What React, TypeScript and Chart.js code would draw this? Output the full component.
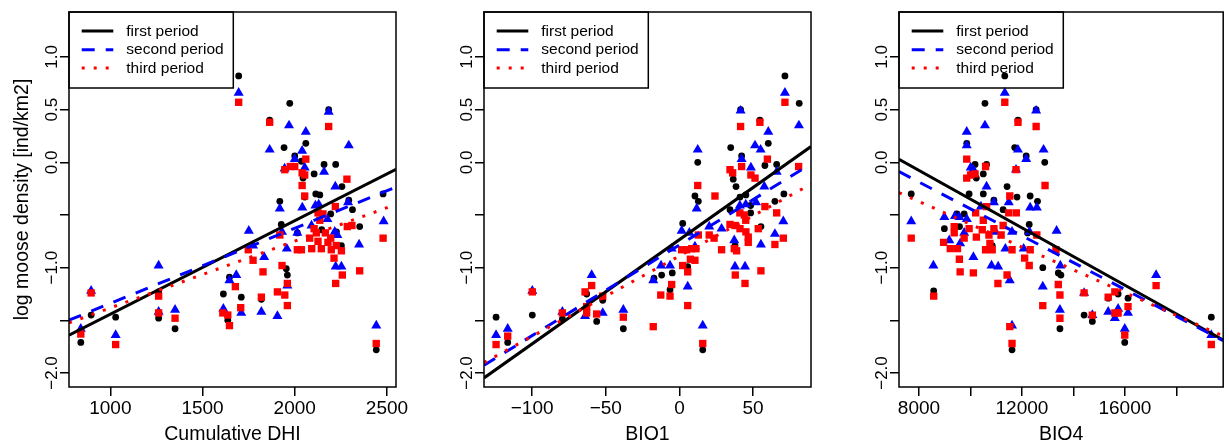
import React, { useEffect, useRef } from "react";
import { Chart, registerables } from "chart.js";

Chart.register(...registerables);

const FONT = '"Liberation Sans", Arial, Helvetica, sans-serif';

type Pt = [number, number];

// ---------- shared y axis ----------
const yMin = -2.133;
const yMax = 1.427;
const yTicks = [-2, -1.5, -1, -0.5, 0, 0.5, 1];
const yTickLabels = ["\u22122.0", "", "\u22121.0", "", "0.0", "0.5", "1.0"];
const yTitle = "log moose density [ind/km2]";

const legendLabels = ["first period", "second period", "third period"];
const periodColors = ["#000000", "#0000FF", "#FF0000"];

// ---------- panel 1: Cumulative DHI ----------
const dhiRange = [776, 2549];
const dhiTicks = [1000, 1500, 2000, 2500];
const dhiTickLabels = ["1000", "1500", "2000", "2500"];
const dhiFirst: Pt[] = [
  [840, -1.71], [896, -1.45], [1029, -1.47], [1262, -1.23], [1262, -1.48], [1351, -1.58], [1613, -1.25], [1637, -1.5], [1646, -1.09],
  [1696, 0.82], [1973, 0.56], [1864, 0.4], [2184, 0.5], [2060, 0.18], [1942, 0.14], [2000, 0.06], [2036, 0.01], [2159, -0.02],
  [2222, -0.02], [2105, -0.11], [2045, -0.15], [2256, -0.23], [2054, -0.33], [1919, -0.37], [2114, -0.3], [2136, -0.31],
  [2293, -0.36], [2313, -0.45], [1927, -0.59], [2195, -0.49], [2352, -0.61], [2479, -0.3], [2014, -0.67], [2253, -0.79],
  [2226, -0.66], [1954, -1.01], [1960, -1.07], [1710, -1.28], [1819, -1.3], [2442, -1.78], [2146, -0.64],
];
const dhiSecond: Pt[] = [
  [840, -1.58], [896, -1.22], [1029, -1.64], [1262, -0.98], [1262, -1.42], [1351, -1.4], [1613, -1.39], [1646, -1.12],
  [1696, 0.66], [2184, 0.48], [1969, 0.35], [2060, 0.29], [1864, 0.12], [2293, 0.16], [2040, 0.11], [2000, 0.03], [2054, -0.05],
  [2159, -0.09], [1945, -0.06], [2220, -0.23], [1919, -0.44], [2041, -0.43], [2112, -0.41], [2130, -0.4], [2289, -0.38],
  [1751, -0.65], [2091, -0.6], [2177, -0.54], [2014, -0.67], [1931, -0.66], [1774, -0.79], [1957, -0.82], [1834, -0.9],
  [2217, -0.66], [2231, -0.69], [2349, -0.78], [2482, -0.56], [2222, -0.99], [2253, -0.99], [1683, -1.07], [1960, -1.17],
  [1710, -1.43], [1819, -1.42], [1906, -1.46], [2442, -1.55],
];
const dhiThird: Pt[] = [
  [840, -1.63], [896, -1.24], [1029, -1.73], [1262, -1.27], [1262, -1.43], [1351, -1.48], [1610, -1.43], [1637, -1.45], [1646, -1.55],
  [1696, 0.57], [1864, 0.38], [2184, 0.34], [2060, 0.03], [1946, -0.07], [1976, -0.04], [2000, -0.04], [2040, -0.1], [2054, -0.12],
  [2040, -0.22], [2054, -0.32], [2283, -0.16], [2220, -0.42], [2126, -0.48], [2153, -0.49], [2136, -0.55], [1919, -0.69],
  [2105, -0.63], [2117, -0.67], [2166, -0.67], [2195, -0.72], [2081, -0.72], [2126, -0.75], [2144, -0.82], [2180, -0.76],
  [2198, -0.83], [2225, -0.79], [2253, -0.84], [2092, -0.82], [2285, -0.61], [2310, -0.6], [2479, -0.72], [1748, -0.83],
  [1774, -0.93], [1828, -1.04], [1931, -0.98], [2014, -0.83], [2036, -0.83], [2213, -0.91], [2258, -1.07], [2352, -1.03],
  [2222, -1.15], [1960, -1.15], [1678, -1.18], [1906, -1.23], [1946, -1.26], [1819, -1.28], [1960, -1.36], [1707, -1.38],
  [2442, -1.72],
];
const dhiCoefs = [[-2.331, 0.000888], [-2.052, 0.000713], [-2.016, 0.000634]];

// ---------- panel 2: BIO1 ----------
const bio1Range = [-132.7, 89.3];
const bio1Ticks = [-100, -50, 0, 50];
const bio1TickLabels = ["\u2212100", "\u221250", "0", "50"];
const bio1First: Pt[] = [
  [-124.5, -1.47], [-116.6, -1.71], [-99.9, -1.45], [-79.5, -1.49], [-63, -1.25], [-56.2, -1.51], [-52.1, -1.31], [-38.1, -1.58],
  [71.6, 0.82], [81.3, 0.56], [41.5, 0.5], [54.6, 0.4], [60.3, 0.18], [34.8, 0.14], [42.2, 0.06], [12.4, 0.0], [66, -0.02],
  [58, -0.03], [36.1, -0.1], [36.5, -0.16], [38.4, -0.23], [10.5, -0.32], [12.8, -0.37], [41.1, -0.33], [45.1, -0.31],
  [70.9, -0.3], [64.8, -0.37], [48.3, -0.41], [48.3, -0.48], [34.3, -0.45], [2.2, -0.58], [55.3, -0.61], [37.7, -0.79],
  [5.6, -0.99], [-12.1, -1.07], [-4.9, -1.05], [-6.4, -1.21], [15.8, -1.78], [-17.3, -1.1],
];
const bio1Second: Pt[] = [
  [-124.5, -1.64], [-116.6, -1.58], [-99.9, -1.22], [-79.5, -1.42], [-64.1, -1.46], [-59.6, -1.07], [-52.1, -1.43], [-38.1, -1.4],
  [71.6, 0.66], [41.5, 0.49], [81.1, 0.35], [60.3, 0.29], [12.4, 0.12], [51.3, 0.16], [55.1, 0.12], [42.2, 0.03], [48.5, -0.05],
  [66, -0.09], [57.6, -0.23], [11.7, -0.44], [41, -0.41], [45, -0.4], [52, -0.38], [70.5, -0.56], [1.5, -0.65], [6.7, -0.67],
  [20.2, -0.61], [28.6, -0.63], [37.2, -0.74], [55.3, -0.78], [64.8, -0.68], [-5.3, -0.82], [10.5, -0.8], [-12.5, -0.98],
  [-6.4, -0.98], [5.6, -1.18], [37.7, -0.99], [44.5, -0.99], [-17.8, -1.12], [15.8, -1.55],
];
const bio1Third: Pt[] = [
  [-124.5, -1.73], [-116.6, -1.65], [-99.9, -1.23], [-79.5, -1.43], [-64.1, -1.23], [-63, -1.37], [-63, -1.43], [-59.6, -1.17],
  [-56.2, -1.44], [-52.1, -1.27], [-38.1, -1.47],
  [71.6, 0.57], [54.6, 0.38], [41.5, 0.34], [59.7, 0.03], [34.3, -0.07], [36.1, -0.1], [42.2, -0.04], [48.5, -0.12], [51.3, -0.15],
  [80.9, -0.04], [12.4, -0.22], [24.1, -0.32], [58, -0.42], [66, -0.48], [41, -0.48], [44, -0.5], [45, -0.55], [34.3, -0.59],
  [37.7, -0.6], [41.1, -0.63], [45.1, -0.66], [46.7, -0.71], [46.7, -0.76], [53.5, -0.63], [12.8, -0.69], [20.2, -0.69],
  [23.5, -0.72], [70.5, -0.72], [64.8, -0.78], [1.5, -0.83], [4.9, -0.83], [8.3, -0.82], [11.2, -0.82], [28.6, -0.83],
  [37.2, -0.82], [38.8, -0.84], [7.4, -0.92], [10.5, -0.93], [2.2, -0.98], [5.6, -1.04], [55.3, -1.03], [37.9, -1.07],
  [44.5, -1.15], [-5.3, -1.16], [-12.7, -1.26], [-6.4, -1.27], [5.6, -1.36], [-17.8, -1.56], [15.8, -1.72],
];
const bio1Coefs = [[-0.734, 0.009896], [-0.784, 0.008615], [-0.889, 0.00763]];

// ---------- panel 3: BIO4 ----------
const bio4Range = [7225, 19818];
const bio4Ticks = [8000, 10000, 12000, 14000, 16000, 18000];
const bio4TickLabels = ["8000", "", "12000", "", "16000", ""];
const bio4First: Pt[] = [
  [11334, 0.82], [10564, 0.56], [12552, 0.5], [11847, 0.4], [9856, 0.18], [11720, 0.14], [12166, 0.06], [12886, 0.0],
  [10626, -0.02], [10179, -0.02], [10499, -0.11], [10229, -0.15], [11423, -0.23], [7700, -0.3], [9948, -0.3], [10499, -0.3],
  [10911, -0.36], [11808, -0.33], [12320, -0.32], [12605, -0.37], [11269, -0.45], [9470, -0.49], [9756, -0.49], [12283, -0.59],
  [8987, -0.63], [9575, -0.61], [10845, -0.79], [12220, -0.67], [12810, -1.0], [13413, -1.05], [13514, -1.07], [8573, -1.22],
  [11616, -1.78], [13476, -1.58], [14415, -1.45], [14735, -1.51], [15351, -1.29], [15736, -1.25], [15994, -1.71], [16121, -1.29],
  [19356, -1.47],
];
const bio4Second: Pt[] = [
  [11334, 0.66], [12552, 0.49], [10564, 0.35], [9856, 0.29], [12841, 0.12], [9856, 0.16], [11847, 0.12], [12166, 0.03],
  [10010, -0.05], [10114, -0.07], [11770, -0.07], [10626, -0.23], [10911, -0.38], [11488, -0.38], [12320, -0.43], [12578, -0.43],
  [10410, -0.42], [7700, -0.56], [8987, -0.52], [9400, -0.51], [9570, -0.52], [9860, -0.54], [9178, -0.74], [9600, -0.77],
  [9756, -0.67], [10974, -0.66], [11616, -0.66], [12296, -0.66], [13347, -0.65], [10114, -0.9], [10819, -0.98], [11077, -0.99],
  [11358, -0.82], [12066, -0.82], [8562, -0.98], [11528, -1.12], [12810, -1.18], [13491, -0.98], [13476, -1.4], [11616, -1.55],
  [14415, -1.24], [14735, -1.45], [15351, -1.42], [15736, -1.39], [15609, -1.48], [15994, -1.58], [16121, -1.43], [17212, -1.07],
  [19356, -1.64],
];
const bio4Third: Pt[] = [
  [11334, 0.57], [11847, 0.38], [12552, 0.34], [9856, 0.03], [10588, -0.04], [9856, -0.15], [10010, -0.12], [10179, -0.11],
  [11770, -0.07], [12898, -0.22], [11528, -0.32], [10626, -0.42], [10202, -0.48], [10499, -0.55], [11488, -0.48], [11781, -0.48],
  [9370, -0.61], [9370, -0.67], [9948, -0.63], [10229, -0.71], [10460, -0.64], [10718, -0.69], [10911, -0.63], [11192, -0.69],
  [11269, -0.6], [8958, -0.76], [9216, -0.82], [9498, -0.82], [9756, -0.72], [10588, -0.83], [10845, -0.83], [10757, -0.77],
  [11616, -0.83], [12320, -0.83], [12578, -0.69], [13322, -0.83], [12105, -0.91], [12283, -0.98], [9570, -0.92], [9600, -1.04],
  [10114, -1.05], [11423, -1.07], [11067, -1.15], [8573, -1.27], [13413, -1.16], [13476, -1.26], [12810, -1.36], [7700, -0.72],
  [13476, -1.48], [11528, -1.56], [11616, -1.72], [14415, -1.24], [14735, -1.45], [15351, -1.28], [15609, -1.23], [15609, -1.43],
  [15736, -1.43], [15994, -1.64], [16121, -1.37], [17212, -1.17], [19356, -1.73],
];
const bio4Coefs = [[1.014, -0.0001363], [0.833, -0.0001275], [0.493, -0.0001081]];

interface PanelSpec {
  range: number[];
  ticks: number[];
  tickLabels: string[];
  title: string;
  showYTitle: boolean;
  series: Pt[][];
  coefs: number[][];
  left: number;
  width: number;
}

const panels: PanelSpec[] = [
  { range: dhiRange, ticks: dhiTicks, tickLabels: dhiTickLabels, title: "Cumulative DHI", showYTitle: true, series: [dhiFirst, dhiSecond, dhiThird], coefs: dhiCoefs, left: 0, width: 415 },
  { range: bio1Range, ticks: bio1Ticks, tickLabels: bio1TickLabels, title: "BIO1", showYTitle: false, series: [bio1First, bio1Second, bio1Third], coefs: bio1Coefs, left: 415, width: 415 },
  { range: bio4Range, ticks: bio4Ticks, tickLabels: bio4TickLabels, title: "BIO4", showYTitle: false, series: [bio4First, bio4Second, bio4Third], coefs: bio4Coefs, left: 830, width: 399 },
];

const PLOT_LEFT = 69;
const PLOT_RIGHT = 396;
const PLOT_TOP = 12;
const PLOT_BOTTOM = 387;
const CANVAS_H = 443;

const lineDashes = [[], [13, 11], [3, 9]];
const pointStyles = ["circle", "triangle", "rect"];
const pointRadii = [3.4, 5.8, 5.2];

function Panel({ spec }: { spec: PanelSpec }) {
  const ref = useRef<HTMLCanvasElement | null>(null);

  useEffect(() => {
    if (!ref.current) return;
    const [xMin, xMax] = spec.range;

    const lineSets = spec.coefs.map((c, i) => ({
      type: "line" as const,
      label: legendLabels[i] + " fit",
      data: [
        { x: xMin, y: c[0] + c[1] * xMin },
        { x: xMax, y: c[0] + c[1] * xMax },
      ],
      showLine: true,
      borderColor: periodColors[i],
      borderWidth: 3,
      borderDash: lineDashes[i],
      borderCapStyle: "butt" as const,
      pointRadius: 0,
      fill: false,
      order: 2 - i,
    }));

    const pointSets = spec.series.map((pts, i) => ({
      type: "scatter" as const,
      label: legendLabels[i],
      data: pts.map(([x, y]) => ({ x, y })),
      pointStyle: pointStyles[i],
      pointRadius: pointRadii[i],
      pointBackgroundColor: periodColors[i],
      pointBorderColor: periodColors[i],
      pointBorderWidth: 0,
      showLine: false,
      order: 5 - i,
    }));

    const decor = {
      id: "decor",
      afterDatasetsDraw(chart: any) {
        const ctx = chart.ctx as CanvasRenderingContext2D;
        const a = chart.chartArea;
        ctx.save();
        const lx = a.left;
        const ly = a.top;
        ctx.strokeStyle = "#000";
        ctx.lineWidth = 1.5;
        ctx.strokeRect(lx, ly, 164.3, 76);
        const rows = [31, 49.7, 68];
        ctx.font = `15.5px ${FONT}`;
        ctx.textAlign = "left";
        ctx.textBaseline = "middle";
        for (let i = 0; i < 3; i++) {
          ctx.beginPath();
          ctx.setLineDash(lineDashes[i]);
          ctx.lineCap = "butt";
          ctx.strokeStyle = periodColors[i];
          ctx.lineWidth = 3;
          ctx.moveTo(lx + 12.7, rows[i]);
          ctx.lineTo(lx + 44.3, rows[i]);
          ctx.stroke();
          ctx.setLineDash([]);
          ctx.fillStyle = "#000";
          ctx.fillText(legendLabels[i], lx + 57.3, rows[i] + 0.5);
        }
        ctx.restore();
      },
      afterDraw(chart: any) {
        const ctx = chart.ctx as CanvasRenderingContext2D;
        const a = chart.chartArea;
        const ys = chart.scales.y;
        ctx.save();
        ctx.strokeStyle = "#000";
        ctx.lineWidth = 1.5;
        ctx.setLineDash([]);
        ctx.strokeRect(a.left, a.top, a.right - a.left, a.bottom - a.top);
        ctx.fillStyle = "#000";
        ctx.font = `17px ${FONT}`;
        ctx.textAlign = "center";
        ctx.textBaseline = "alphabetic";
        yTicks.forEach((v, i) => {
          const lab = yTickLabels[i];
          if (!lab) return;
          const py = ys.getPixelForValue(v);
          ctx.save();
          ctx.translate(a.left - 12.3, py);
          ctx.rotate(-Math.PI / 2);
          ctx.fillText(lab, 0, 0);
          ctx.restore();
        });
        ctx.font = `19.5px ${FONT}`;
        ctx.fillText(spec.title, (a.left + a.right) / 2, 440);
        if (spec.showYTitle) {
          ctx.save();
          ctx.translate(28, (a.top + a.bottom) / 2);
          ctx.rotate(-Math.PI / 2);
          ctx.fillText(yTitle, 0, 0);
          ctx.restore();
        }
        ctx.restore();
      },
    };

    const gridOpts = {
      display: true,
      drawOnChartArea: false,
      drawTicks: true,
      tickLength: 9,
      color: "#000",
      lineWidth: 1.5,
    };

    const chart = new Chart(ref.current, {
      type: "scatter",
      data: { datasets: [...lineSets, ...pointSets] as any },
      options: {
        responsive: false,
        animation: false,
        events: [],
        layout: { padding: { top: PLOT_TOP, right: spec.width - PLOT_RIGHT, left: 0, bottom: 0 } },
        plugins: { legend: { display: false }, tooltip: { enabled: false } },
        scales: {
          x: {
            type: "linear",
            position: "bottom",
            min: xMin,
            max: xMax,
            afterBuildTicks: (s: any) => {
              s.ticks = spec.ticks.map((v) => ({ value: v }));
            },
            afterFit: (s: any) => {
              s.height = CANVAS_H - PLOT_BOTTOM;
              s.paddingLeft = 0;
              s.paddingRight = 0;
            },
            grid: gridOpts,
            border: { display: false },
            ticks: {
              autoSkip: false,
              maxRotation: 0,
              minRotation: 0,
              padding: 1,
              color: "#000",
              font: { family: FONT, size: 19 },
              callback: (v: any) => {
                const idx = spec.ticks.indexOf(Number(v));
                return idx >= 0 ? spec.tickLabels[idx] : "";
              },
            },
          },
          y: {
            type: "linear",
            position: "left",
            min: yMin,
            max: yMax,
            afterBuildTicks: (s: any) => {
              s.ticks = yTicks.map((v) => ({ value: v }));
            },
            afterFit: (s: any) => {
              s.width = PLOT_LEFT;
              s.paddingTop = 0;
              s.paddingBottom = 0;
            },
            grid: gridOpts,
            border: { display: false },
            ticks: { display: false },
          },
        },
      } as any,
      plugins: [decor],
    });
    return () => chart.destroy();
  }, [spec]);

  return (
    <canvas
      ref={ref}
      width={spec.width}
      height={CANVAS_H}
      style={{ position: "absolute", left: spec.left, top: 0, width: spec.width, height: CANVAS_H }}
    />
  );
}

export default function App() {
  return (
    <div
      style={{
        position: "absolute",
        left: 0,
        top: 0,
        width: 1229,
        height: CANVAS_H,
        overflow: "hidden",
        background: "#fff",
      }}
    >
      {panels.map((p, i) => (
        <Panel key={i} spec={p} />
      ))}
    </div>
  );
}
